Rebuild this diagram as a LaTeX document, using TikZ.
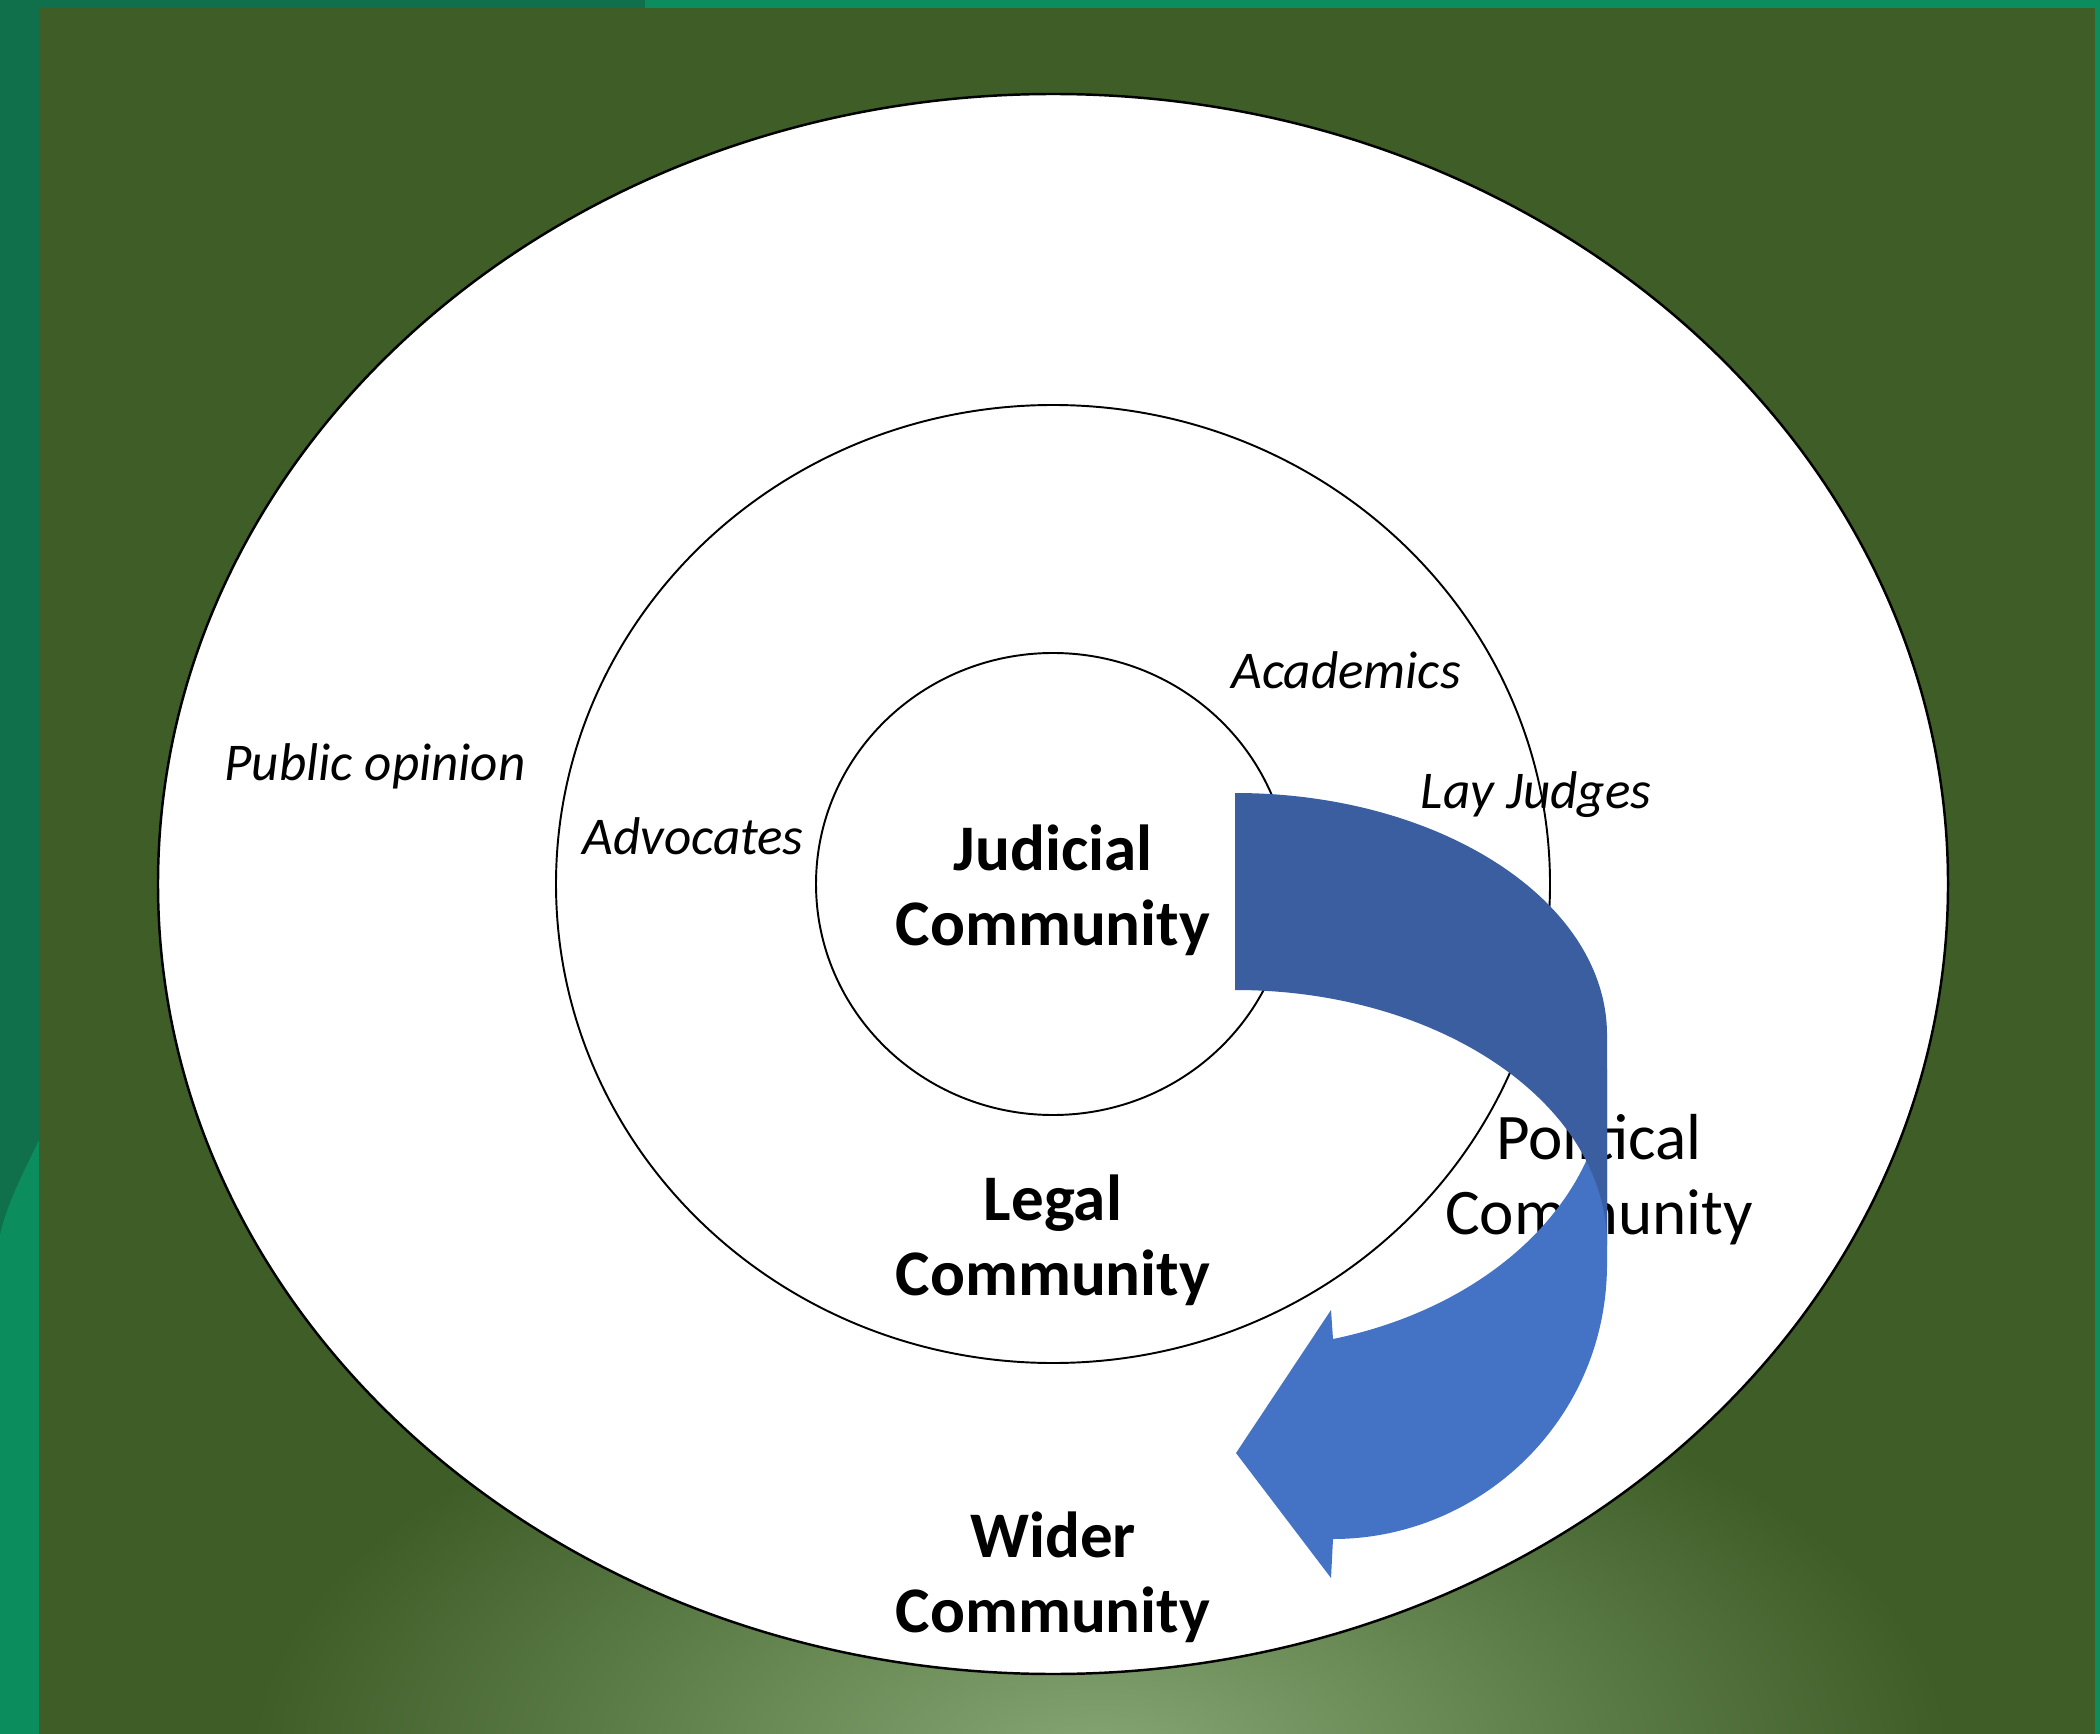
\documentclass[tikz,border=0pt]{standalone}
\usepackage{fontspec}
\setmainfont{Carlito}
\definecolor{olive}{HTML}{3E5D27}
\definecolor{glow}{HTML}{86A774}
\definecolor{tealdark}{HTML}{10704B}
\definecolor{teallight}{HTML}{0B8D5D}
\definecolor{frontblue}{HTML}{4472C4}
\definecolor{backblue}{HTML}{3A5E9F}
\begin{document}
\begin{tikzpicture}[x=0.01cm,y=-0.01cm,line join=round,
	ring/.style={draw=black,line width=0.55pt},
	member/.style={inner sep=0pt,anchor=base,font=\fontsize{15.1}{18}\selectfont\itshape},
	community/.style={inner sep=0pt,align=center,font=\fontsize{18.5}{21.3}\selectfont\bfseries},
	plainlabel/.style={community,font=\fontsize{18.5}{21.3}\selectfont\mdseries}]
	\useasboundingbox (0,0) rectangle (2100,1734);
	\begin{scope}
	\clip (0,0) rectangle (2100,1734);
	\fill[olive] (0,0) rectangle (2100,1734);
	\shade[inner color=glow,outer color=olive] (1100,1760) ellipse[x radius=850,y radius=420];
	\fill[tealdark] (0,0) rectangle (39,1734) (0,0) rectangle (2100,8);
	\fill[teallight] (39,1140) .. controls (25,1170) and (8,1200) .. (0,1235) -- (0,1734) -- (39,1734) -- cycle;
	\fill[teallight] (645,0) rectangle (2100,8) (2095,0) rectangle (2100,1734);
	\end{scope}
	\draw[fill=white,line width=0.7pt] (1053,884) ellipse[x radius=895,y radius=790];
	\draw[ring] (1053,884) ellipse[x radius=497,y radius=479];
	\draw[ring] (1053,884) ellipse[x radius=237,y radius=231];
	\node[member] (public) at (375,780) {Public opinion};
	\node[member] (advocates) at (693,854) {Advocates};
	\node[member] (academics) at (1346,689) {Academics};
	\node[member] (lay) at (1536,808) {Lay Judges};
	\node[community] (judicial) at (1053,890) {Judicial\\Community};
	\node[community] (legal) at (1053,1240) {Legal\\Community};
	\node[community] (wider) at (1053,1577) {Wider\\Community};
	\node[plainlabel] (political) at (1599,1180) {Political\\Community};
	\fill[frontblue] (1607,1069) -- (1607,1264) .. controls (1607,1420) and (1480,1539) .. (1333,1539)
		-- (1331,1578) -- (1236,1453) -- (1331,1310) -- (1333,1339)
		arc[start angle=74.7,end angle=0,x radius=372,y radius=280] -- cycle;
	\fill[backblue] (1235,793) arc[start angle=-90,end angle=0,x radius=372,y radius=242]
		-- (1607,1245) arc[start angle=0,end angle=-90,x radius=372,y radius=255] -- cycle;
\end{tikzpicture}
\end{document}
